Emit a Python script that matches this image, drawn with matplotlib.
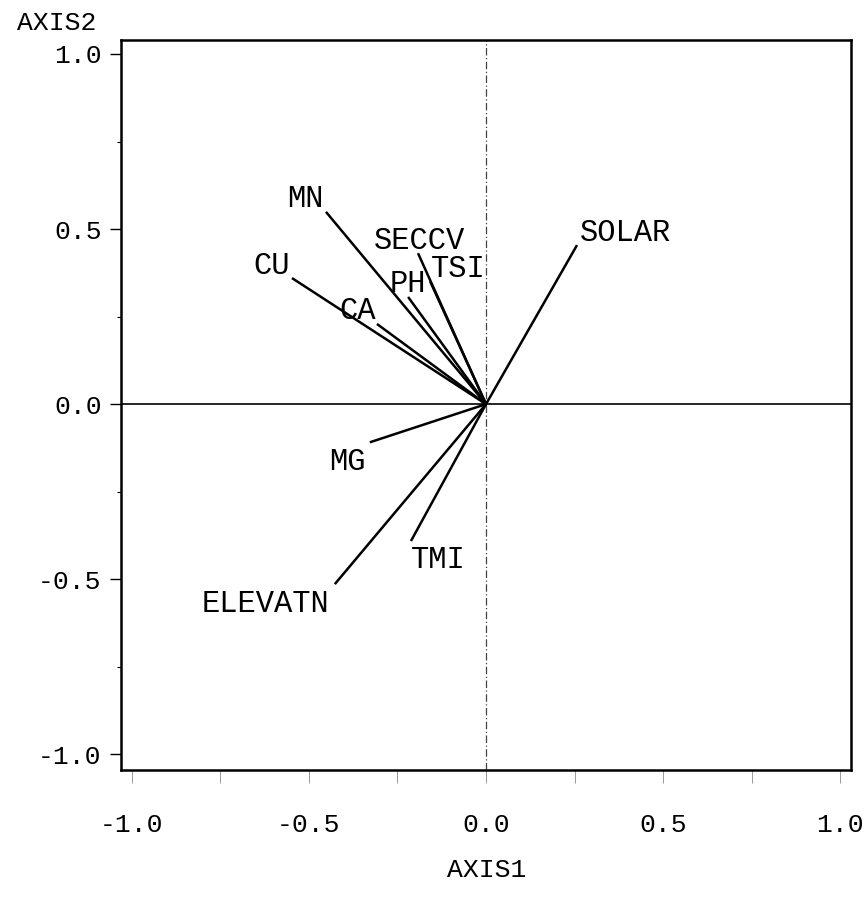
# Biplot de correlações (AXIS1 x AXIS2)
import matplotlib
matplotlib.use("Agg")
import matplotlib.pyplot as plt
from matplotlib.ticker import MultipleLocator

# Variáveis e coordenadas
variables = ["MN", "SECCV", "TSI", "PH", "CU", "CA", "MG", "TMI", "ELEVATN", "SOLAR"]
axis1 = [-0.452, -0.192, -0.158, -0.220, -0.548, -0.308, -0.328, -0.212, -0.427, 0.257]
axis2 = [0.549, 0.431, 0.351, 0.306, 0.360, 0.229, -0.109, -0.391, -0.514, 0.454]

tick_values = [-1.0, -0.5, 0.0, 0.5, 1.0]
tick_labels = ["-1.0", "-0.5", "0.0", "0.5", "1.0"]

# Deslocamento dos rótulos (pontos) em relação à ponta de cada vetor
label_offsets = [(-15, 9), (1, 9), (20, 9), (0, 9), (-15, 9),
                 (-14, 9), (-16, -14), (20, -14), (-50, -14), (35, 9)]

font = "Liberation Mono"
plt.rcParams["font.family"] = [font, "DejaVu Sans Mono"]

fig = plt.figure(figsize=(8.66, 9.00), dpi=100)
ax = fig.add_axes([0.1397, 0.1444, 0.843, 0.8112])

ax.set_xlim(-1.031, 1.031)
ax.set_ylim(-1.045, 1.04)

# Linhas de referência
ax.axhline(0, color="black", lw=1.2, zorder=1)
ax.axvline(0, color="#444444", lw=0.9, ls=(0, (6, 2, 1, 2)), zorder=1)

# Vetores
for name, x, y, off in zip(variables, axis1, axis2, label_offsets):
    ax.plot([0, x], [0, y], color="black", lw=1.8, solid_capstyle="butt", zorder=2)
    ax.annotate(name, (x, y), xytext=off, textcoords="offset points",
                ha="center", va="center", fontsize=22, color="black")

# Eixos
for s in ax.spines.values():
    s.set_linewidth(1.8)
    s.set_color("black")

ax.set_xticks(tick_values)
ax.set_xticklabels(tick_labels)
ax.set_yticks(tick_values)
ax.set_yticklabels(tick_labels)
ax.xaxis.set_minor_locator(MultipleLocator(0.25))
ax.yaxis.set_minor_locator(MultipleLocator(0.25))
ax.tick_params(axis="x", which="both", direction="out", length=9, width=0.6,
               color="#888888", labelsize=19, pad=22)
ax.tick_params(axis="y", which="major", direction="out", length=8, width=1.0,
               labelsize=19, pad=6)
ax.tick_params(axis="y", which="minor", direction="out", length=3, width=0.8)

fig.text(487 / 866, 1 - 870 / 900, "AXIS1", ha="center", va="center", fontsize=19)
fig.text(57 / 866, 1 - 23 / 900, "AXIS2", ha="center", va="center", fontsize=19)

fig.savefig("out.png", dpi=100, facecolor="white")
